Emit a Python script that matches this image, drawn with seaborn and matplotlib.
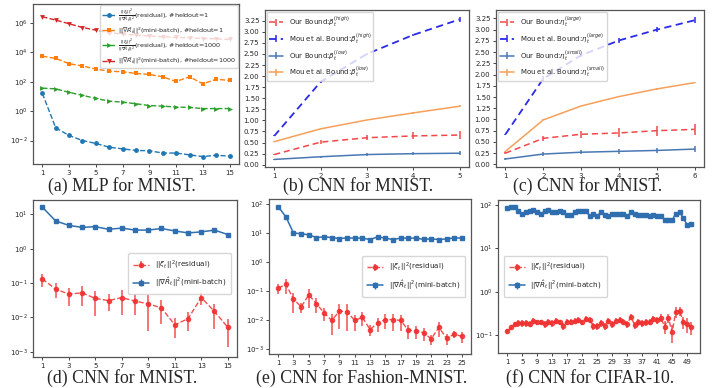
import matplotlib
matplotlib.use('Agg')
import matplotlib.pyplot as plt
import seaborn as sns

# (a) MLP for MNIST
a_x = list(range(1, 16))
a_res_h1 = [16, 0.073, 0.022, 0.010, 0.0063, 0.0035, 0.0027, 0.0021, 0.0020, 0.0014, 0.0014, 0.00105, 0.0008, 0.0010, 0.00085]
a_mb_h1 = [5600, 3900, 1700, 1200, 730, 530, 480, 370, 316, 220, 105, 220, 73, 150, 123]
a_res_h1000 = [37, 33, 19, 12, 7.3, 4.8, 4.1, 3.2, 2.4, 2.2, 1.9, 1.8, 1.5, 1.5, 1.5]
a_mb_h1000 = [2.7e6, 1.6e6, 9e5, 5e5, 3.3e5, 2.2e5, 1.8e5, 1.5e5, 1.3e5, 1.17e5, 1.05e5, 1.0e5, 8.9e4, 8.5e4, 7.7e4]

# (b) CNN for MNIST, beta
b_x = [1, 2, 3, 4, 5]
b_our_high = [0.23, 0.51, 0.61, 0.65, 0.67]
b_our_high_err = [0.02, 0.04, 0.06, 0.08, 0.10]
b_mou_high = [0.65, 1.87, 2.50, 2.93, 3.28]
b_mou_high_err = [0.01, 0.02, 0.02, 0.03, 0.05]
b_our_low = [0.12, 0.18, 0.23, 0.25, 0.26]
b_our_low_err = [0.01, 0.02, 0.03, 0.04, 0.05]
b_mou_low = [0.52, 0.81, 1.01, 1.17, 1.32]
b_mou_low_err = [0.005, 0.01, 0.01, 0.015, 0.02]

# (c) CNN for MNIST, eta
c_x = [1, 2, 3, 4, 5, 6]
c_our_large = [0.25, 0.58, 0.67, 0.70, 0.75, 0.78]
c_our_large_err = [0.03, 0.06, 0.08, 0.10, 0.11, 0.13]
c_mou_large = [0.67, 1.91, 2.43, 2.76, 3.00, 3.21]
c_mou_large_err = [0.01, 0.05, 0.04, 0.06, 0.06, 0.07]
c_our_small = [0.12, 0.23, 0.27, 0.29, 0.31, 0.34]
c_our_small_err = [0.02, 0.04, 0.05, 0.06, 0.06, 0.07]
c_mou_small = [0.29, 0.99, 1.30, 1.51, 1.68, 1.82]
c_mou_small_err = [0.005, 0.01, 0.01, 0.01, 0.015, 0.015]

# (d) CNN for MNIST
d_x = list(range(1, 16))
d_res = [0.134, 0.067, 0.048, 0.052, 0.036, 0.031, 0.038, 0.030, 0.025, 0.019, 0.0061, 0.0092, 0.038, 0.015, 0.0052]
d_res_err = [0.055, 0.031, 0.026, 0.030, 0.025, 0.016, 0.026, 0.018, 0.021, 0.0125, 0.0035, 0.0052, 0.015, 0.0105, 0.0038]
d_mb = [16.4, 6.5, 4.8, 4.2, 4.4, 3.7, 4.0, 3.5, 3.5, 3.9, 3.3, 2.9, 3.1, 3.5, 2.6]

# (e) CNN for Fashion-MNIST
e_x = list(range(1, 26))
e_res = [0.123, 0.17, 0.052, 0.028, 0.073, 0.036, 0.0174, 0.0095, 0.020, 0.019, 0.0095, 0.0123, 0.0046,
         0.0078, 0.0102, 0.0102, 0.0095, 0.0044, 0.0042, 0.0036, 0.0022, 0.0055, 0.0023, 0.0032, 0.0027]
e_res_err = [0.043, 0.09, 0.035, 0.011, 0.047, 0.019, 0.008, 0.0065, 0.015, 0.015, 0.0055, 0.006, 0.0018,
             0.004, 0.0055, 0.006, 0.0055, 0.0022, 0.002, 0.0018, 0.0009, 0.003, 0.001, 0.0009, 0.0011]
e_mb = [81, 36, 10, 9.3, 8.6, 6.9, 7.3, 6.9, 6.4, 6.7, 6.6, 6.6, 5.9, 7.3, 6.6, 5.9, 6.6, 6.6, 6.6,
        6.0, 6.2, 5.9, 6.2, 6.7, 6.6]

# (f) CNN for CIFAR-10
f_x = list(range(1, 51))
f_res = [0.12, 0.148, 0.177, 0.185, 0.185, 0.185, 0.18, 0.21, 0.195, 0.195,
         0.177, 0.20, 0.185, 0.21, 0.195, 0.16, 0.20, 0.20, 0.21, 0.22,
         0.195, 0.235, 0.22, 0.16, 0.16, 0.185, 0.16, 0.21, 0.177, 0.21,
         0.22, 0.20, 0.177, 0.26, 0.17, 0.195, 0.185, 0.195, 0.20, 0.235,
         0.22, 0.25, 0.155, 0.25, 0.115, 0.34, 0.36, 0.20, 0.18, 0.15]
f_res_err = [0.015, 0.02, 0.025, 0.03, 0.03, 0.03, 0.03, 0.035, 0.03, 0.03,
             0.03, 0.035, 0.03, 0.035, 0.03, 0.03, 0.035, 0.035, 0.035, 0.035,
             0.03, 0.04, 0.035, 0.03, 0.03, 0.03, 0.03, 0.035, 0.03, 0.035,
             0.035, 0.035, 0.03, 0.04, 0.03, 0.035, 0.035, 0.035, 0.035, 0.04,
             0.04, 0.05, 0.05, 0.06, 0.05, 0.1, 0.08, 0.06, 0.07, 0.05]
f_mb = [87, 89, 91, 74, 61, 70, 75, 76, 70, 61,
        73, 78, 68, 68, 74, 68, 60, 59, 68, 72,
        72, 72, 57, 64, 57, 68, 59, 55, 64, 64,
        63, 64, 55, 68, 62, 60, 59, 59, 55, 59,
        57, 57, 46, 46, 45, 64, 68, 51, 35, 36]
f_mb_err = [1.5] * 50

captions = ['(a) MLP for MNIST.', '(b) CNN for MNIST.', '(c) CNN for MNIST.',
            '(d) CNN for MNIST.', '(e) CNN for Fashion-MNIST.', '(f) CNN for CIFAR-10.']

sns.set_style('ticks')
plt.rcParams['font.family'] = ['DejaVu Sans']
plt.rcParams['mathtext.fontset'] = 'dejavusans'

RED = '#f03030'
BLUE = '#2f6fb0'

fig = plt.figure(figsize=(7.2, 3.88), dpi=100)
rects = [[33, 4, 239, 164], [265, 10, 469, 167], [496, 10, 704, 167],
         [33, 200, 237, 357], [269, 199, 471, 354], [498, 200, 700, 353]]
axes = []
for l, t, r, b in rects:
    ax = fig.add_axes([l / 720, 1 - b / 388, (r - l) / 720, (b - t) / 388])
    axes.append(ax)

# Langkah 1: panel (a)
ax = axes[0]
sns.lineplot(x=a_x, y=a_res_h1, ax=ax, color='tab:blue', marker='o', linestyle='--', markersize=3.5,
             markeredgewidth=0, lw=1,
             label=r'$\frac{||\xi_t||^2}{||\nabla\hat{R}_t||^2}$(residual), #heldout=1')
sns.lineplot(x=a_x, y=a_mb_h1, ax=ax, color='tab:orange', marker='s', linestyle='--', markersize=3.5,
             markeredgewidth=0, lw=1,
             label=r'$||\nabla\hat{R}_t||^2$(mini-batch), #heldout=1')
sns.lineplot(x=a_x, y=a_res_h1000, ax=ax, color='tab:green', marker='>', linestyle='--', markersize=3.5,
             markeredgewidth=0, lw=1,
             label=r'$\frac{||\xi_t||^2}{||\nabla\hat{R}_t||^2}$(residual), #heldout=1000')
sns.lineplot(x=a_x, y=a_mb_h1000, ax=ax, color='tab:red', marker='v', linestyle='--', markersize=3.5,
             markeredgewidth=0, lw=1,
             label=r'$||\nabla\hat{R}_t||^2$(mini-batch), #heldout=1000')
ax.set_yscale('log')
ax.set_ylim(10 ** -3.6, 10 ** 7.3)
ax.set_yticks([1e-2, 1e0, 1e2, 1e4, 1e6])
ax.set_xticks(range(1, 16, 2))
ax.set_xlim(0.3, 15.7)
ax.legend(loc='upper right', fontsize=4.6, handlelength=2, borderpad=0.3, labelspacing=0.2,
          handletextpad=0.4, borderaxespad=0.2)

# Langkah 2: panel (b) and (c)
def bound_panel(ax, x, series, xticks):
    for y, err, color, ls, lw, label in series:
        ax.errorbar(x, y, yerr=err, color=color, linestyle=ls, lw=lw, elinewidth=1.1, label=label)
    ax.set_yticks([i * 0.25 for i in range(14)])
    ax.set_xticks(xticks)
    ax.legend(loc='upper left', fontsize=5, handlelength=2, borderpad=0.3, labelspacing=0.25,
              borderaxespad=0.3)

bound_panel(axes[1], b_x, [
    (b_our_high, b_our_high_err, '#f04848', (0, (4, 2.5)), 1.1, r'Our Bound:$\beta_t^{(high)}$'),
    (b_mou_high, b_mou_high_err, '#2a2ae8', (0, (4, 2.5)), 1.3, r'Mou et al. Bound:$\beta_t^{(high)}$'),
    (b_our_low, b_our_low_err, '#4a78b4', '-', 1.1, r'Our Bound:$\beta_t^{(low)}$'),
    (b_mou_low, b_mou_low_err, '#f5a05a', '-', 1.1, r'Mou et al. Bound:$\beta_t^{(low)}$'),
], b_x)
bound_panel(axes[2], c_x, [
    (c_our_large, c_our_large_err, '#f04848', (0, (4, 2.5)), 1.1, r'Our Bound:$\eta_t^{(large)}$'),
    (c_mou_large, c_mou_large_err, '#2a2ae8', (0, (4, 2.5)), 1.3, r'Mou et al. Bound:$\eta_t^{(large)}$'),
    (c_our_small, c_our_small_err, '#4a78b4', '-', 1.1, r'Our Bound:$\eta_t^{(small)}$'),
    (c_mou_small, c_mou_small_err, '#f5a05a', '-', 1.1, r'Mou et al. Bound:$\eta_t^{(small)}$'),
], c_x)

# Langkah 3: panels (d), (e), (f)
def residual_panel(ax, x, res, res_err, mb, mb_err, xticks, ylim, yticks, loc, anchor):
    ax.errorbar(x, res, yerr=res_err, color=RED, linestyle='--', marker='o', markersize=3,
                lw=1, elinewidth=1.1, alpha=0.85, label=r'$||\xi_t||^2$(residual)')
    ax.errorbar(x, mb, yerr=mb_err, color=BLUE, linestyle='-', marker='s', markersize=3,
                lw=1.1, elinewidth=1, label=r'$||\nabla\hat{R}_t||^2$(mini-batch)')
    ax.set_yscale('log')
    ax.set_ylim(*ylim)
    ax.set_yticks(yticks)
    ax.set_xticks(xticks)
    ax.legend(loc=loc, bbox_to_anchor=anchor, fontsize=5.2, handlelength=2.2, borderpad=0.7,
              labelspacing=0.6)

residual_panel(axes[3], d_x, d_res, d_res_err, d_mb, [0.1] * 15, range(1, 16, 2),
               (10 ** -3.15, 10 ** 1.42), [1e-3, 1e-2, 1e-1, 1e0, 1e1], 'center right', (0.99, 0.53))
residual_panel(axes[4], e_x, e_res, e_res_err, e_mb, [0.3] * 25, range(1, 26, 2),
               (10 ** -3.18, 10 ** 2.17), [1e-3, 1e-2, 1e-1, 1e0, 1e1, 1e2], 'center right', (0.99, 0.5))
residual_panel(axes[5], f_x, f_res, f_res_err, f_mb, f_mb_err, range(1, 51, 4),
               (10 ** -1.42, 10 ** 2.12), [1e-1, 1e0, 1e1, 1e2], 'center left', (0.01, 0.5))

for ax in axes:
    ax.minorticks_off()
    ax.tick_params(labelsize=5, length=2.5, width=0.6, pad=1.5)
    for s in ax.spines.values():
        s.set_linewidth(0.9)
        s.set_color('#555555')

cap_pos = [(122, 191), (358, 191), (588, 191), (122, 383), (362, 383), (590, 383)]
for (cx, cy), text in zip(cap_pos, captions):
    fig.text(cx / 720, 1 - cy / 388, text, ha='center', va='baseline', fontsize=12.8,
             family=['Liberation Serif', 'DejaVu Serif'])

fig.savefig('out.png', dpi=100)
